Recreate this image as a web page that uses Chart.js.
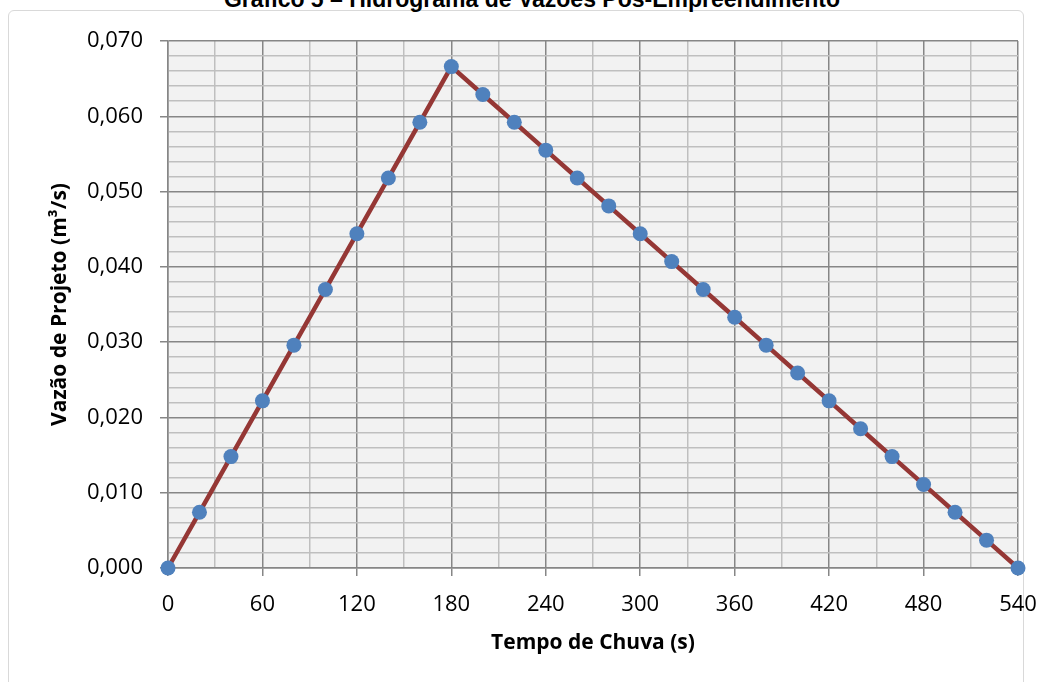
<!DOCTYPE html>
<html>
<head>
<meta charset="utf-8">
<script src="https://cdn.jsdelivr.net/npm/chart.js@4.4.1/dist/chart.umd.min.js"></script>
<style>
  html, body { margin: 0; padding: 0; background: #fff; overflow: hidden; }
  #wrap { position: relative; width: 1054px; height: 682px; }
  #frame {
    position: absolute; left: 8px; top: 10px; width: 1016px; height: 700px;
    border: 1px solid #d9d9d9; border-radius: 6px; box-sizing: border-box;
  }
  #title {
    position: absolute; left: 0; width: 1064px; top: -14px; text-align: center;
    font: bold 23px "Liberation Sans", Arial, sans-serif; color: #000;
  }
  canvas { position: absolute; left: 0; top: 0; }
</style>
</head>
<body>
<div id="wrap">
  <div id="frame"></div>
  <div id="title">Gráfico 5 – Hidrograma de Vazões Pós-Empreendimento</div>
  <canvas id="chart" width="1054" height="682"></canvas>
</div>
<script>
const TEMPO = [0, 20, 40, 60, 80, 100, 120, 140, 160, 180, 200, 220, 240, 260,
  280, 300, 320, 340, 360, 380, 400, 420, 440, 460, 480, 500, 520, 540];

const VAZAO = [0.0000, 0.0074, 0.0148, 0.0222, 0.0296, 0.0370, 0.0444, 0.0518,
  0.0592, 0.0666, 0.0629, 0.0592, 0.0555, 0.0518, 0.0481, 0.0444, 0.0407,
  0.0370, 0.0333, 0.0296, 0.0259, 0.0222, 0.0185, 0.0148, 0.0111, 0.0074,
  0.0037, 0.0000];

const X_TICKS = [0, 60, 120, 180, 240, 300, 360, 420, 480, 540];
const Y_TICKS = ["0,000", "0,010", "0,020", "0,030", "0,040", "0,050", "0,060", "0,070"];

const MAJOR = "#868686";
const MINOR = "#bfbfbf";
const TICK_FONT = { family: "'Open Sans', sans-serif", size: 22 };
const TITLE_FONT = { family: "'Open Sans', sans-serif", size: 21, weight: "bold" };

function isMajorX(v) {
  return X_TICKS.includes(Math.round(v));
}

function isMajorY(v) {
  return Math.round(v * 1000) % 10 === 0;
}

// fundo cinza da área de plotagem
const plotBg = {
  id: "plotBg",
  beforeDraw(chart) {
    const { ctx, chartArea: a } = chart;
    ctx.save();
    ctx.fillStyle = "#f2f2f2";
    ctx.fillRect(a.left, a.top, a.right - a.left, a.bottom - a.top);
    ctx.restore();
  }
};

const points = TEMPO.map((t, i) => ({ x: t, y: VAZAO[i] }));

new Chart(document.getElementById("chart"), {
  type: "line",
  data: {
    datasets: [{
      data: points,
      borderColor: "#953735",
      borderWidth: 4.5,
      pointBackgroundColor: "#4f81bd",
      pointBorderColor: "#4f81bd",
      pointBorderWidth: 0,
      pointRadius: 7.5,
      tension: 0,
      clip: false
    }]
  },
  options: {
    responsive: false,
    animation: false,
    layout: { padding: { top: 41, right: 36, left: 0, bottom: 0 } },
    plugins: {
      legend: { display: false },
      tooltip: { enabled: false }
    },
    scales: {
      x: {
        type: "linear",
        min: 0,
        max: 540,
        afterFit(scale) { scale.height = 114; },
        ticks: {
          stepSize: 30,
          autoSkip: false,
          maxRotation: 0,
          padding: 16,
          color: "#000",
          font: TICK_FONT,
          callback: (v) => (isMajorX(v) ? String(v) : "")
        },
        grid: {
          color: (c) => (isMajorX(c.tick.value) ? MAJOR : MINOR),
          lineWidth: 1.5,
          tickLength: 8,
          tickColor: (c) => (isMajorX(c.tick.value) ? MAJOR : "transparent")
        },
        border: { color: MAJOR, width: 1.5 },
        title: {
          display: true,
          text: "Tempo de Chuva (s)",
          color: "#000",
          font: TITLE_FONT,
          padding: { top: 0, bottom: 26 }
        }
      },
      y: {
        min: 0,
        max: 0.07,
        afterFit(scale) { scale.width = 168; },
        ticks: {
          stepSize: 0.002,
          autoSkip: false,
          padding: 17,
          color: "#000",
          font: TICK_FONT,
          callback: (v) => (isMajorY(v) ? Y_TICKS[Math.round(v * 100)] : "")
        },
        grid: {
          color: (c) => (isMajorY(c.tick.value) ? MAJOR : MINOR),
          lineWidth: 1.5,
          tickLength: 8,
          tickColor: (c) => (isMajorY(c.tick.value) ? MAJOR : "transparent")
        },
        border: { color: MAJOR, width: 1.5 },
        title: {
          display: true,
          text: "Vazão de Projeto (m³/s)",
          color: "#000",
          font: TITLE_FONT,
          padding: { top: 47, bottom: 0 }
        }
      }
    }
  },
  plugins: [plotBg]
});
</script>
</body>
</html>
